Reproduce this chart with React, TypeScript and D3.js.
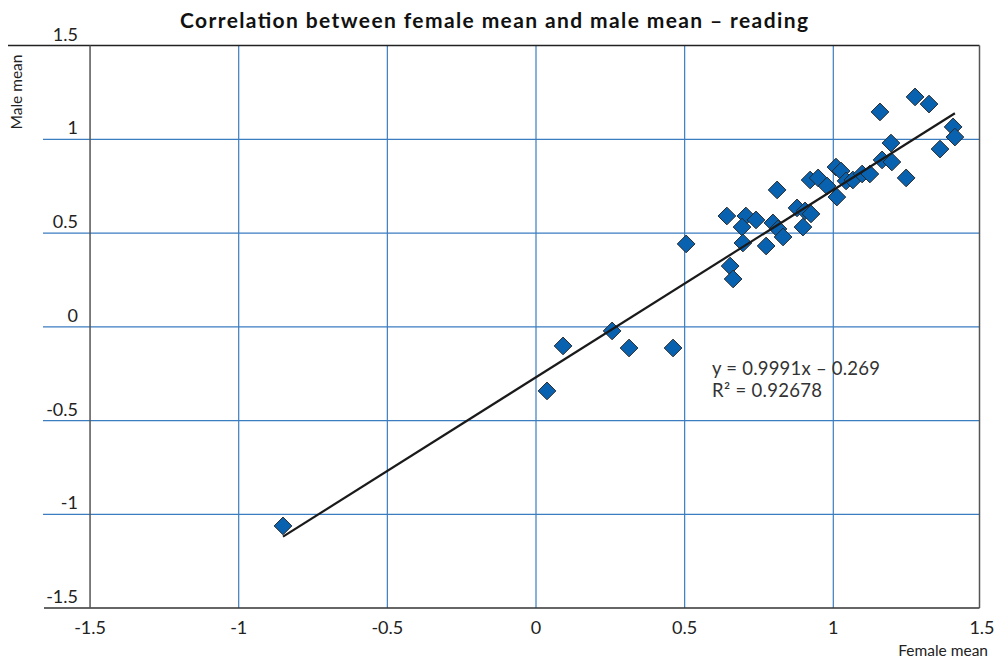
import React from "react";
import * as d3 from "d3";

const femaleMean: number[] = [
  -0.851, 0.037, 0.091, 0.256, 0.313, 0.461, 0.505, 0.642, 0.706, 0.693, 0.74,
  0.797, 0.814, 0.831, 0.696, 0.774, 0.653, 0.663, 0.811, 0.878, 0.905, 0.925,
  0.898, 0.922, 0.949, 0.979, 1.012, 1.009, 1.026, 1.043, 1.066, 1.097, 1.123,
  1.164, 1.194, 1.197, 1.245, 1.157, 1.275, 1.322, 1.359, 1.403, 1.409,
];
const maleMean: number[] = [
  -1.062, -0.342, -0.102, -0.022, -0.113, -0.113, 0.442, 0.591, 0.591, 0.532,
  0.57, 0.554, 0.522, 0.479, 0.447, 0.431, 0.324, 0.255, 0.73, 0.634, 0.618,
  0.602, 0.532, 0.783, 0.794, 0.751, 0.692, 0.852, 0.831, 0.778, 0.783, 0.815,
  0.815, 0.89, 0.98, 0.879, 0.794, 1.146, 1.226, 1.188, 0.948, 1.066, 1.012,
];
const xTicks: number[] = [-1.5, -1, -0.5, 0, 0.5, 1, 1.5];
const yTicks: number[] = [-1.5, -1, -0.5, 0, 0.5, 1, 1.5];
const trendSlope = 0.9991;
const trendIntercept = -0.269;
const equationLines: string[] = ["y = 0.9991x \u2013 0.269", "R\u00b2 = 0.92678"];
const titleText = "Correlation between female mean and male mean \u2013 reading";

const W = 994;
const H = 661;
const FONT = "Lato, 'Open Sans', sans-serif";

export default function App() {
  const x = d3.scaleLinear().domain([0, 1]).range([536, 833.3]);
  const y = d3.scaleLinear().domain([0, 1]).range([326.8, 139.3]);
  const left = x(-1.5);
  const right = 979.5;
  const top = y(1.5);
  const bottom = y(-1.5);
  const gridColor = "#3b7dc0";
  const xMin = d3.min(femaleMean) as number;
  const xMax = d3.max(femaleMean) as number;
  const line = d3
    .line<number>()
    .x((d) => x(d))
    .y((d) => y(trendSlope * d + trendIntercept));
  const diamond = d3.symbol().type(d3.symbolDiamond2).size(200)();

  return (
    <svg
      width={W}
      height={H}
      style={{ position: "absolute", left: 0, top: 0, background: "#fff" }}
      fontFamily={FONT}
    >
      <rect x={0} y={0} width={W} height={H} fill="#fff" />
      {/* horizontal grid */}
      {yTicks
        .filter((t) => t > -1.5 && t < 1.5)
        .map((t) => (
          <line key={"hy" + t} x1={43} x2={right} y1={y(t)} y2={y(t)} stroke={gridColor} strokeWidth={1.2} />
        ))}
      {/* vertical grid */}
      {xTicks
        .filter((t) => t > -1.5 && t < 1.5)
        .map((t) => (
          <line key={"vx" + t} x1={x(t)} x2={x(t)} y1={top} y2={bottom} stroke={gridColor} strokeWidth={1.2} />
        ))}
      {/* frame */}
      <line x1={8} x2={right} y1={top} y2={top} stroke="#222" strokeWidth={1.5} />
      <line x1={44} x2={right} y1={bottom} y2={bottom} stroke="#333" strokeWidth={1.5} />
      <line x1={left} x2={left} y1={top} y2={bottom} stroke="#555" strokeWidth={1.5} />
      <line x1={right} x2={right} y1={top} y2={bottom} stroke="#555" strokeWidth={1.5} />

      {/* y tick labels */}
      {yTicks.map((t) => (
        <text key={"yl" + t} x={78} y={y(t) - 5} textAnchor="end" fontSize={18} fill="#222">
          {String(t)}
        </text>
      ))}
      {/* x tick labels */}
      {xTicks.map((t) => (
        <text key={"xl" + t} x={x(t)} y={634} textAnchor="middle" fontSize={18} fill="#222">
          {String(t)}
        </text>
      ))}

      {/* points */}
      {femaleMean.map((fx, i) => (
        <path
          key={"p" + i}
          d={diamond as string}
          transform={`translate(${x(fx)},${y(maleMean[i])})`}
          fill="#0862b0"
          stroke="#2a2a2a"
          strokeWidth={1}
        />
      ))}

      {/* trend line */}
      <path d={line([xMin, xMax]) as string} fill="none" stroke="#1a1a1a" strokeWidth={2.2} />

      {/* equation */}
      <text x={712} y={375} fontSize={18.5} fill="#333" textLength={168} lengthAdjust="spacing">
        {equationLines[0]}
      </text>
      <text x={712} y={396.5} fontSize={18.5} fill="#333" textLength={110} lengthAdjust="spacing">
        {equationLines[1]}
      </text>

      {/* titles */}
      <text
        x={180}
        y={28}
        fontSize={21}
        fontWeight="bold"
        fill="#111"
        textLength={628}
        lengthAdjust="spacing"
      >
        {titleText}
      </text>
      <text
        transform={`translate(22,92) rotate(-90)`}
        textAnchor="middle"
        fontSize={15.5}
        fill="#222"
      >
        Male mean
      </text>
      <text x={988} y={656} textAnchor="end" fontSize={15.5} fill="#222">
        Female mean
      </text>
    </svg>
  );
}
